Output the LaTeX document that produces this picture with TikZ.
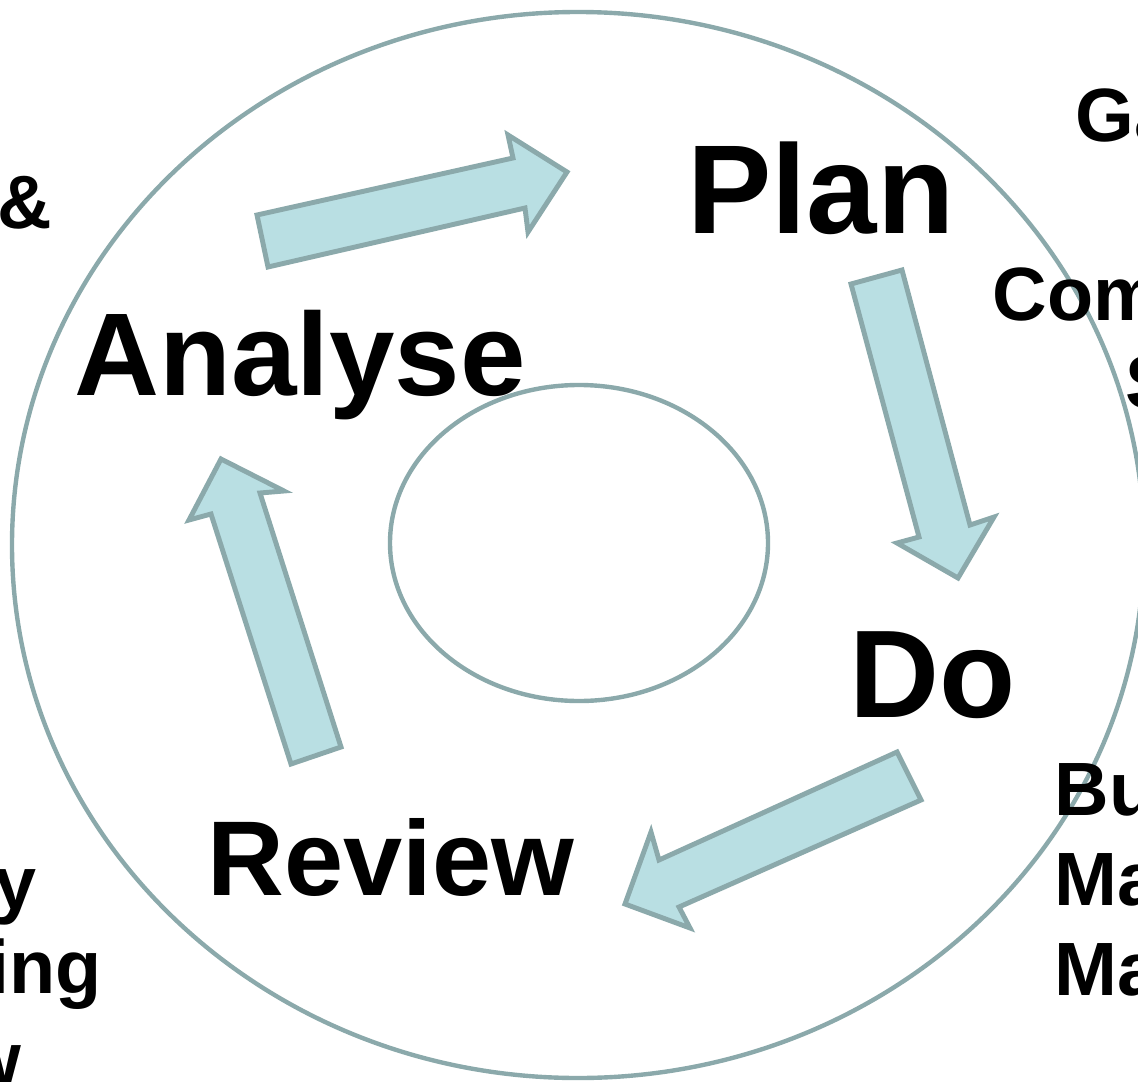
\documentclass[tikz,border=0pt]{standalone}
\usepackage{fontspec}
\setmainfont{Liberation Sans}
\usetikzlibrary{positioning}
\definecolor{cyclefill}{HTML}{B9DFE3}
\definecolor{cycleline}{HTML}{8BA9AB}
\tikzset{every picture/.style={line width=0.75pt}}
\tikzset{
  blockarrow/.style={draw=cycleline, fill=cyclefill, line width=2.8pt, line join=miter},
  ring/.style={draw=cycleline, line width=2.5pt},
  stage/.style={inner sep=0pt, anchor=base, font=\bfseries\fontsize{#1}{#1}\selectfont},
  side/.style={inner sep=0pt, font=\bfseries\fontsize{43}{43}\selectfont}
}

\begin{document}
\begin{tikzpicture}[x=0.02cm,y=-0.02cm]
\useasboundingbox (0,0) rectangle (1138,1081);
\clip (0,0) rectangle (1138,1081);
% outer ring and inner hub
\draw[ring] (578,545) ellipse (566 and 533);
\draw[ring] (579,543) ellipse (189 and 158);
% block arrows of the cycle
\draw[blockarrow] (257,215) -- (513,158) -- (508,135) -- (567,172) -- (528,232) -- (525,208) -- (268,267) -- cycle;
\draw[blockarrow] (851,284) -- (902,270) -- (970,525) -- (994,517) -- (958,578) -- (897,543) -- (919,537) -- cycle;
\draw[blockarrow] (897,752) -- (921,800) -- (679,907) -- (690,928) -- (625,904) -- (651,832) -- (659,860) -- cycle;
\draw[blockarrow] (291,764) -- (341,747) -- (260,493) -- (284,491) -- (221,459) -- (189,520) -- (211,514) -- cycle;
% stage labels
\node[stage=72] (plan) at (821,234) {Plan};
\node[stage=71] (do) at (933,717) {Do};
\node[stage=67] (analyse) at (300,395) {Analyse};
\node[stage=60.5] (review) at (391,895) {Review};
% cut-off side texts
\node[side, anchor=base east] (amp) at (53,228) {\&};
\node[side, anchor=base east] (lefty) at (37,909) {y};
\node[side, anchor=base east] (leftg) at (102,993) {ing};
\node[side, anchor=base east] (leftw) at (22,1085) {w};
\node[side, anchor=base west] (ga) at (1075,142) {Ga};
\node[side, anchor=base west] (com) at (992,320) {Com};
\node[side, anchor=base west] (ess) at (1125,408) {S};
\node[side, anchor=base west] (bu) at (1054,815) {Bu};
\node[side, anchor=base west] (ma) at (1054,905) {Ma};
\node[side, anchor=base west] (mb) at (1054,995) {Ma};
\end{tikzpicture}
\end{document}
